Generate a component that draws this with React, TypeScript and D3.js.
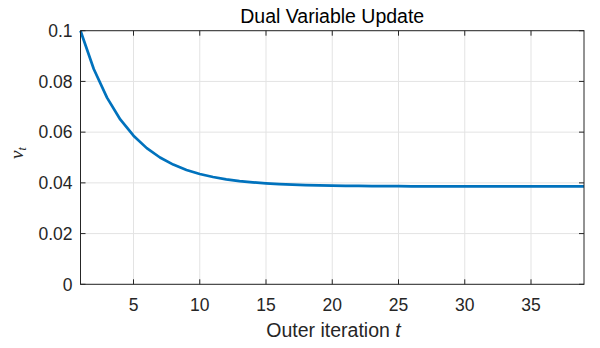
import React from "react";
import * as d3 from "d3";

// Dual variable value per outer iteration t = 1..39
const iterations: number[] = Array.from({ length: 39 }, (_, i) => i + 1);
const nuValues: number[] = [
  0.1, 0.0849, 0.0736, 0.065, 0.0586, 0.0537, 0.05, 0.0472, 0.0451, 0.0435,
  0.0423, 0.0414, 0.0407, 0.0402, 0.0398, 0.0395, 0.0393, 0.0391, 0.039, 0.0389,
  0.0388, 0.0388, 0.0387, 0.0387, 0.0387, 0.0386, 0.0386, 0.0386, 0.0386, 0.0386,
  0.0386, 0.0386, 0.0386, 0.0386, 0.0386, 0.0386, 0.0386, 0.0386, 0.0386,
];
const xTicks: number[] = [5, 10, 15, 20, 25, 30, 35];
const yTicks: number[] = [0, 0.02, 0.04, 0.06, 0.08, 0.1];
const yTickLabels: string[] = ["0", "0.02", "0.04", "0.06", "0.08", "0.1"];

const W = 600;
const H = 348;
const left = 80.5;
const right = 584;
const top = 30.7;
const bottom = 284.3;

const axisColor = "#262626";
const gridColor = "#e3e3e3";
const lineColor = "#0072BD";
const font = "'Liberation Sans', Arial, Helvetica, sans-serif";
const tickFont = 17.5;
const labelFont = 19.5;

export default function App() {
  const x = d3.scaleLinear().domain([1, 39]).range([left, right]);
  const y = d3.scaleLinear().domain([0, 0.1]).range([bottom, top]);
  const line = d3
    .line<number>()
    .x((_, i) => x(iterations[i]))
    .y((d) => y(d));
  const tickLen = 5;

  return (
    <svg
      width={W}
      height={H}
      style={{ position: "absolute", left: 0, top: 0, background: "#fff" }}
    >
      <rect x={0} y={0} width={W} height={H} fill="#fff" />
      {/* grid */}
      {xTicks.map((t) => (
        <line key={"gx" + t} x1={x(t)} x2={x(t)} y1={top} y2={bottom} stroke={gridColor} strokeWidth={1} />
      ))}
      {yTicks.map((t) => (
        <line key={"gy" + t} x1={left} x2={right} y1={y(t)} y2={y(t)} stroke={gridColor} strokeWidth={1} />
      ))}
      {/* curve */}
      <path d={line(nuValues) || ""} fill="none" stroke={lineColor} strokeWidth={2.7} strokeLinejoin="round" />
      {/* box */}
      <rect x={left} y={top} width={right - left} height={bottom - top} fill="none" stroke={axisColor} strokeWidth={1} />
      {/* ticks */}
      {xTicks.map((t) => (
        <g key={"tx" + t}>
          <line x1={x(t)} x2={x(t)} y1={bottom} y2={bottom - tickLen} stroke={axisColor} />
          <line x1={x(t)} x2={x(t)} y1={top} y2={top + tickLen} stroke={axisColor} />
          <text x={x(t)} y={311} textAnchor="middle" fontFamily={font} fontSize={tickFont} fill={axisColor}>
            {t}
          </text>
        </g>
      ))}
      {yTicks.map((t, i) => (
        <g key={"ty" + t}>
          <line x1={left} x2={left + tickLen} y1={y(t)} y2={y(t)} stroke={axisColor} />
          <line x1={right} x2={right - tickLen} y1={y(t)} y2={y(t)} stroke={axisColor} />
          <text x={left - 8} y={y(t) + 6.3} textAnchor="end" fontFamily={font} fontSize={tickFont} fill={axisColor}>
            {yTickLabels[i]}
          </text>
        </g>
      ))}
      {/* title */}
      <text x={(left + right) / 2} y={22.5} textAnchor="middle" fontFamily={font} fontSize={labelFont} fill="#000">
        Dual Variable Update
      </text>
      {/* x label */}
      <text x={333.5} y={337} textAnchor="middle" fontFamily={font} fontSize={labelFont} fill={axisColor}>
        Outer iteration <tspan fontStyle="italic">t</tspan>
      </text>
      {/* y label */}
      <text
        transform={`translate(23,153) rotate(-90)`}
        textAnchor="middle"
        fontFamily="'Liberation Serif', 'DejaVu Serif', serif"
        fontStyle="italic"
        fontSize={19}
        fill={axisColor}
      >
        ν<tspan fontSize={12} dy={3}>t</tspan>
      </text>
    </svg>
  );
}
